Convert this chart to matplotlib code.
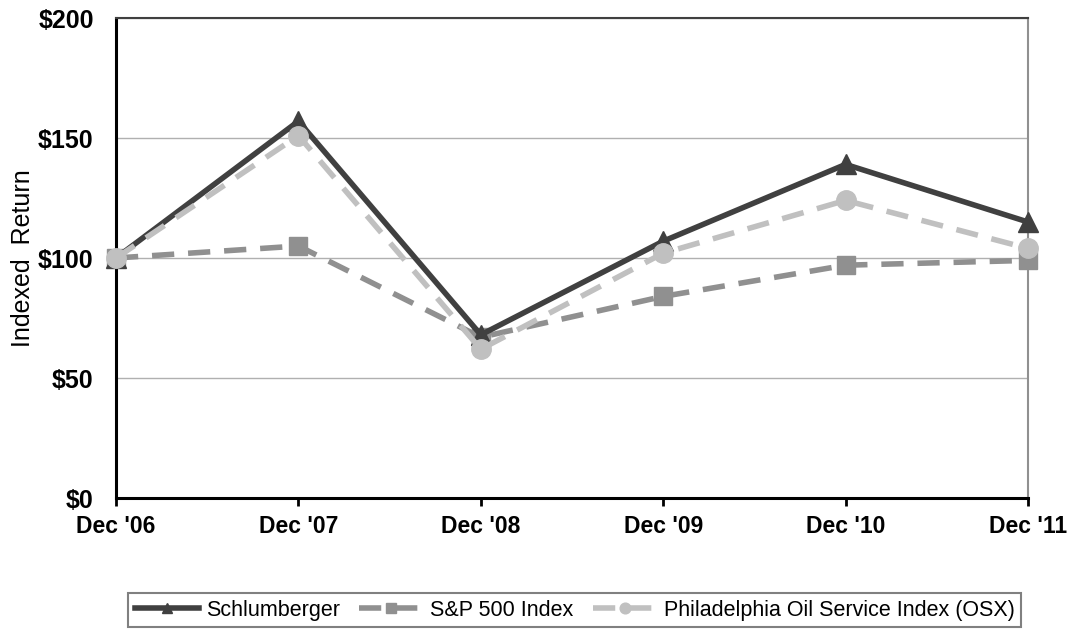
import matplotlib.pyplot as plt
from matplotlib.ticker import FuncFormatter

# Data
years = ["Dec '06", "Dec '07", "Dec '08", "Dec '09", "Dec '10", "Dec '11"]
slb = [100, 157, 68, 107, 139, 115]
spx = [100, 105, 67, 84, 97, 99]
osx = [100, 151, 62, 102, 124, 104]

plt.rcParams['font.family'] = ['Liberation Sans', 'DejaVu Sans']

fig = plt.figure(figsize=(10.7, 6.33), dpi=100)
ax = fig.add_axes([116/1070, 1-498/633, 912/1070, 480/633])

x = range(len(years))
ax.plot(x, slb, color="#404040", linewidth=4, linestyle="-", marker="^", markersize=14,
        label="Schlumberger", zorder=3, clip_on=False)
ax.plot(x, spx, color="#909090", linewidth=4, linestyle=(0, (4, 2.5)), marker="s", markersize=13,
        label="S&P 500 Index", zorder=2, clip_on=False)
ax.plot(x, osx, color="#c0c0c0", linewidth=4, linestyle=(0, (4, 2.5)), marker="o", markersize=14,
        label="Philadelphia Oil Service Index (OSX)", zorder=4, clip_on=False)

ax.set_xlim(0, len(years) - 1)
ax.set_ylim(0, 200)
ax.set_yticks([0, 50, 100, 150, 200])
ax.yaxis.set_major_formatter(FuncFormatter(lambda v, p: "$%d" % v))
ax.set_xticks(list(x))
ax.set_xticklabels(years)
ax.tick_params(axis='x', direction='out', length=6, width=2, labelsize=16.5, pad=6)
ax.tick_params(axis='y', length=0, labelsize=18, pad=16)
for lab in ax.get_xticklabels() + ax.get_yticklabels():
    lab.set_fontweight("bold")

ax.grid(axis="y", color="#b0b0b0", linewidth=1)
ax.set_axisbelow(True)
ax.spines["left"].set_linewidth(2.2)
ax.spines["bottom"].set_linewidth(2.2)
ax.spines["top"].set_color("#404040")
ax.spines["top"].set_linewidth(1.5)
ax.spines["right"].set_color("#909090")
ax.spines["right"].set_linewidth(1.5)

ax.set_ylabel("Indexed  Return", fontsize=18, labelpad=2)

leg = fig.legend(loc="lower center", bbox_to_anchor=(0.537, -0.008), ncol=3, fontsize=15.5,
                 frameon=True, fancybox=False, edgecolor="#606060", handlelength=3.0,
                 columnspacing=0.9, handletextpad=0.3, borderpad=0.3, markerscale=0.55)
leg.get_frame().set_linewidth(1.5)

fig.savefig("out.png", dpi=100)
